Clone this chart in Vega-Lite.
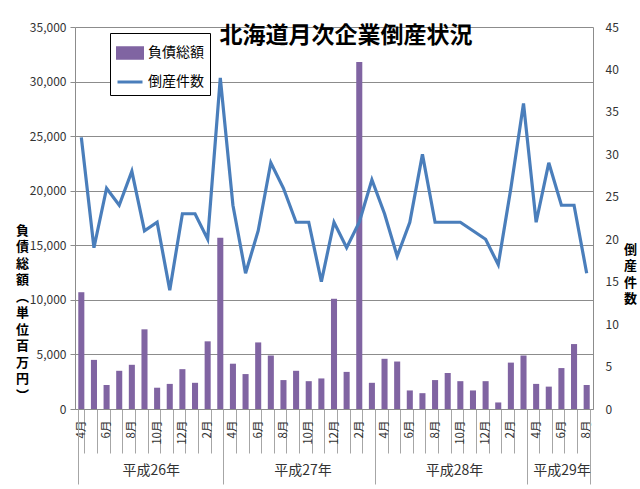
{
  "$schema": "https://vega.github.io/schema/vega-lite/v6.json",
  "width": 518,
  "height": 382,
  "autosize": {"type": "none"},
  "padding": {"left": 75, "top": 27, "right": 47, "bottom": 80},
  "background": "white",
  "title": {
    "text": "北海道月次企業倒産状況",
    "font": "Noto Sans CJK JP",
    "fontSize": 23,
    "fontWeight": "bold",
    "color": "black",
    "anchor": "middle",
    "frame": "group",
    "offset": 0,
    "dx": 12,
    "dy": 27
  },
  "config": {
    "view": {"stroke": null},
    "font": "Noto Sans CJK JP",
    "axis": {
      "labelFont": "Noto Sans CJK JP",
      "titleFont": "Noto Sans CJK JP",
      "labelColor": "#333333",
      "titleColor": "black",
      "labelFontSize": 12
    }
  },
  "data": {
    "values": [
      {"t": "平成26年4月", "debt": 10700, "count": 32},
      {"t": "平成26年5月", "debt": 4500, "count": 19},
      {"t": "平成26年6月", "debt": 2200, "count": 26},
      {"t": "平成26年7月", "debt": 3500, "count": 24},
      {"t": "平成26年8月", "debt": 4050, "count": 28},
      {"t": "平成26年9月", "debt": 7300, "count": 21},
      {"t": "平成26年10月", "debt": 1950, "count": 22},
      {"t": "平成26年11月", "debt": 2300, "count": 14},
      {"t": "平成26年12月", "debt": 3650, "count": 23},
      {"t": "平成27年1月", "debt": 2400, "count": 23},
      {"t": "平成27年2月", "debt": 6200, "count": 20},
      {"t": "平成27年3月", "debt": 15700, "count": 39},
      {"t": "平成27年4月", "debt": 4150, "count": 24},
      {"t": "平成27年5月", "debt": 3200, "count": 16},
      {"t": "平成27年6月", "debt": 6100, "count": 21},
      {"t": "平成27年7月", "debt": 4900, "count": 29},
      {"t": "平成27年8月", "debt": 2650, "count": 26},
      {"t": "平成27年9月", "debt": 3500, "count": 22},
      {"t": "平成27年10月", "debt": 2550, "count": 22},
      {"t": "平成27年11月", "debt": 2800, "count": 15},
      {"t": "平成27年12月", "debt": 10100, "count": 22},
      {"t": "平成28年1月", "debt": 3400, "count": 19},
      {"t": "平成28年2月", "debt": 31800, "count": 22},
      {"t": "平成28年3月", "debt": 2400, "count": 27},
      {"t": "平成28年4月", "debt": 4600, "count": 23},
      {"t": "平成28年5月", "debt": 4350, "count": 18},
      {"t": "平成28年6月", "debt": 1700, "count": 22},
      {"t": "平成28年7月", "debt": 1450, "count": 30},
      {"t": "平成28年8月", "debt": 2650, "count": 22},
      {"t": "平成28年9月", "debt": 3300, "count": 22},
      {"t": "平成28年10月", "debt": 2550, "count": 22},
      {"t": "平成28年11月", "debt": 1700, "count": 21},
      {"t": "平成28年12月", "debt": 2550, "count": 20},
      {"t": "平成29年1月", "debt": 600, "count": 17},
      {"t": "平成29年2月", "debt": 4250, "count": 26},
      {"t": "平成29年3月", "debt": 4900, "count": 36},
      {"t": "平成29年4月", "debt": 2300, "count": 22},
      {"t": "平成29年5月", "debt": 2050, "count": 29},
      {"t": "平成29年6月", "debt": 3750, "count": 24},
      {"t": "平成29年7月", "debt": 5950, "count": 24},
      {"t": "平成29年8月", "debt": 2200, "count": 16}
    ]
  },
  "layer": [
    {
      "mark": {"type": "bar"},
      "encoding": {
        "x": {
          "field": "t",
          "type": "nominal",
          "sort": null,
          "scale": {"paddingInner": 0.52, "paddingOuter": 0.26},
          "axis": {
            "orient": "bottom",
            "title": null,
            "tickBand": "extent",
            "tickSize": 44,
            "tickColor": "#A6A6A6",
            "domainColor": "#8C8C8C",
            "labelAngle": -90,
            "labelAlign": "right",
            "labelBaseline": "middle",
            "labelPadding": -33,
            "labelFontSize": 11.5,
            "labelOverlap": false,
            "labelExpr": "indexof(['2月','4月','6月','8月','10月','12月'], split(datum.value, '年')[1]) >= 0 ? split(datum.value, '年')[1] : ''"
          }
        },
        "y": {
          "field": "debt",
          "type": "quantitative",
          "scale": {"domain": [0, 35000], "nice": false},
          "axis": {
            "orient": "left",
            "title": ["負", "債", "総", "額", "︵", "単", "位", "百", "万", "円", "︶"],
            "titleAngle": 0,
            "titleX": -53,
            "titleY": 197,
            "titleAlign": "center",
            "titleBaseline": "top",
            "titleLineHeight": 16.5,
            "titleFontSize": 13,
            "titleFontWeight": "bold",
            "values": [0, 5000, 10000, 15000, 20000, 25000, 30000, 35000],
            "labelExpr": "format(datum.value, ',.0f')",
            "grid": true,
            "gridColor": "#8C8C8C",
            "tickSize": 5,
            "tickColor": "#8C8C8C",
            "domainColor": "#8C8C8C",
            "labelPadding": 4
          }
        },
        "color": {
          "datum": "負債総額",
          "scale": {"domain": ["負債総額", "倒産件数"], "range": ["#8064A2", "#4A7EBB"]},
          "legend": {
            "orient": "none",
            "legendX": 35,
            "legendY": 6,
            "title": null,
            "strokeColor": "black",
            "fillColor": "white",
            "padding": 6,
            "labelFont": "Noto Sans CJK JP",
            "labelFontSize": 14,
            "labelColor": "black",
            "symbolSize": 625,
            "rowPadding": 3,
            "labelOffset": 4,
            "encode": {
              "symbols": {
                "update": {
                  "shape": {"signal": "datum.value === '倒産件数' ? 'stroke' : 'M-1,-0.42H1V0.42H-1Z'"},
                  "fill": {"signal": "datum.value === '倒産件数' ? 'transparent' : '#8064A2'"},
                  "stroke": {"signal": "datum.value === '倒産件数' ? '#4A7EBB' : 'transparent'"},
                  "strokeWidth": {"value": 3},
                  "opacity": {"value": 1}
                }
              }
            }
          }
        }
      }
    },
    {
      "mark": {"type": "line", "strokeWidth": 3.2},
      "encoding": {
        "x": {
          "field": "t",
          "type": "nominal",
          "sort": null,
          "axis": {
            "orient": "bottom",
            "title": null,
            "domain": false,
            "values": ["平成26年4月", "平成26年9月", "平成27年3月", "平成27年9月", "平成28年3月", "平成28年9月", "平成29年3月", "平成29年6月", "平成29年8月"],
            "tickBand": "extent",
            "tickSize": 75,
            "tickColor": "#A6A6A6",
            "tickOpacity": {
              "condition": {"test": "datum.extra || indexof(['平成27年3月','平成28年3月','平成29年3月','平成29年8月'], datum.value) >= 0", "value": 1},
              "value": 0
            },
            "labelAngle": 0,
            "labelAlign": "center",
            "labelBaseline": "top",
            "labelPadding": -21,
            "labelFontSize": 14,
            "labelOverlap": false,
            "labelOffset": {
              "condition": {"test": "datum.value === '平成29年6月'", "value": 0},
              "value": 6.3
            },
            "labelExpr": "indexof(['平成26年9月','平成27年9月','平成28年9月','平成29年6月'], datum.value) >= 0 ? slice(datum.value, 0, 5) : ''"
          }
        },
        "y": {
          "field": "count",
          "type": "quantitative",
          "scale": {"domain": [0, 45], "nice": false},
          "axis": {
            "orient": "right",
            "title": ["倒", "産", "件", "数"],
            "titleAngle": 0,
            "titleX": 37,
            "titleY": 216,
            "titleAlign": "center",
            "titleBaseline": "top",
            "titleLineHeight": 16.5,
            "titleFontSize": 13,
            "titleFontWeight": "bold",
            "values": [0, 5, 10, 15, 20, 25, 30, 35, 40, 45],
            "grid": false,
            "ticks": false,
            "tickSize": 0,
            "labelPadding": 12,
            "domainColor": "#8C8C8C"
          }
        },
        "color": {"datum": "倒産件数"}
      }
    }
  ],
  "resolve": {"scale": {"y": "independent"}, "axis": {"x": "independent"}}
}
